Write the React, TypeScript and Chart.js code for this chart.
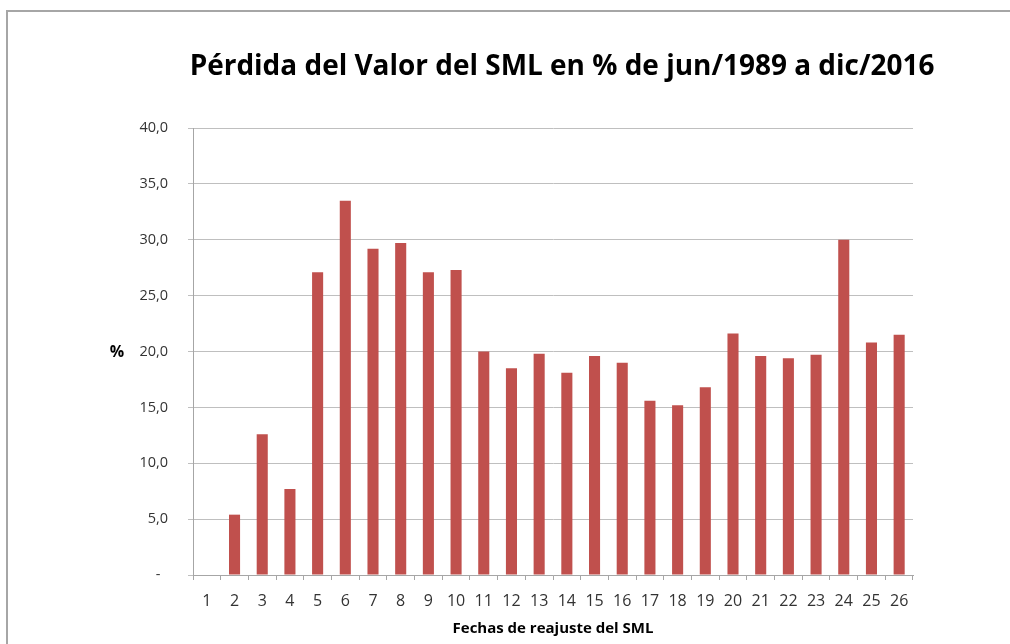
import React, { useEffect, useRef } from "react";
import { Chart, registerables } from "chart.js";

Chart.register(...registerables);

const categories: string[] = ["1","2","3","4","5","6","7","8","9","10","11","12","13","14","15","16","17","18","19","20","21","22","23","24","25","26"];
const lossValues: number[] = [0, 5.4, 12.6, 7.7, 27.1, 33.5, 29.2, 29.7, 27.1, 27.3, 20.0, 18.5, 19.8, 18.1, 19.6, 19.0, 15.6, 15.2, 16.8, 21.6, 19.6, 19.4, 19.7, 30.0, 20.8, 21.5];
const yTickValues: number[] = [0, 5, 10, 15, 20, 25, 30, 35, 40];

const titleText = "Pérdida del Valor del SML en % de jun/1989 a dic/2016";
const xTitleText = "Fechas de reajuste del SML";
const yTitleText = "%";

const W = 1010;
const H = 644;

const decorPlugin = {
  id: "decor",
  beforeDraw(chart: any) {
    const ctx = chart.ctx;
    ctx.save();
    ctx.fillStyle = "#ffffff";
    ctx.fillRect(0, 0, W, H);
    ctx.strokeStyle = "#a6a6a6";
    ctx.lineWidth = 2;
    ctx.beginPath();
    ctx.moveTo(7, H + 5);
    ctx.lineTo(7, 11);
    ctx.lineTo(W + 5, 11);
    ctx.stroke();
    ctx.restore();
  },
  afterDraw(chart: any) {
    const ctx = chart.ctx;
    const area = chart.chartArea;
    ctx.save();
    ctx.fillStyle = "#000000";
    ctx.font = "bold 30px 'Open Sans'";
    const w30 = ctx.measureText(titleText).width;
    const size = (30 * 745) / w30;
    ctx.font = `bold ${size.toFixed(2)}px 'Open Sans'`;
    ctx.textAlign = "center";
    ctx.textBaseline = "alphabetic";
    ctx.fillText(titleText, 562, 75);
    ctx.font = "bold 15px 'Open Sans'";
    ctx.textBaseline = "middle";
    ctx.fillText(xTitleText, 553, 629);
    ctx.font = "bold 16px 'Open Sans'";
    ctx.fillText(yTitleText, 117, (area.top + area.bottom) / 2 + 1);
    ctx.restore();
  },
};

export default function App() {
  const ref = useRef<HTMLCanvasElement | null>(null);
  useEffect(() => {
    if (!ref.current) return;
    const chart = new Chart(ref.current, {
      type: "bar",
      data: {
        labels: categories,
        datasets: [
          {
            data: lossValues,
            backgroundColor: "#c0504d",
            borderWidth: 0,
            barPercentage: 0.4,
            categoryPercentage: 1,
          },
        ],
      },
      options: {
        responsive: false,
        animation: false,
        devicePixelRatio: 1,
        layout: { padding: { left: 0, top: 128, right: 97, bottom: 0 } },
        plugins: {
          legend: { display: false },
          title: { display: false },
          tooltip: { enabled: false },
        },
        scales: {
          x: {
            afterFit(scale: any) {
              scale.height = 69;
            },
            grid: {
              display: true,
              drawOnChartArea: false,
              drawTicks: true,
              tickLength: 5,
              offset: true,
              color: "#a6a6a6",
            },
            border: { display: true, color: "#a6a6a6", width: 1 },
            ticks: {
              color: "#333333",
              font: { family: "'Open Sans'", size: 16 },
              padding: 12,
              maxRotation: 0,
              autoSkip: false,
            },
          },
          y: {
            min: 0,
            max: 40,
            afterFit(scale: any) {
              scale.width = 193;
            },
            afterBuildTicks(scale: any) {
              scale.ticks = yTickValues.map((v) => ({ value: v }));
            },
            grid: {
              color: "#bfbfbf",
              drawTicks: true,
              tickLength: 5,
              lineWidth: 1,
            },
            border: { display: true, color: "#a6a6a6", width: 1 },
            ticks: {
              color: "#333333",
              font: { family: "'Open Sans'", size: 14.5 },
              padding: 20,
              callback: (v: any) => (Number(v) === 0 ? "-  " : Number(v).toFixed(1).replace(".", ",")),
            },
          },
        },
      },
      plugins: [decorPlugin],
    });
    return () => chart.destroy();
  }, []);
  return (
    <div style={{ position: "absolute", left: 0, top: 0, width: W, height: H, overflow: "hidden", background: "#fff" }}>
      <canvas ref={ref} width={W} height={H} style={{ display: "block", width: W, height: H }} />
    </div>
  );
}
